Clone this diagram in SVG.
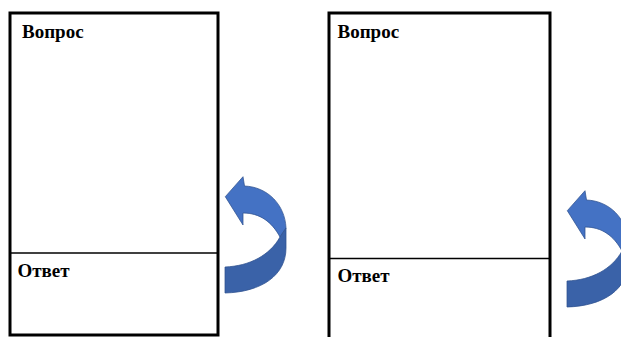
<svg xmlns="http://www.w3.org/2000/svg" width="621" height="337" viewBox="0 0 621 337">
<style>
.box{fill:#fff;stroke:#000;stroke-width:3}
.div{stroke:#000;stroke-width:1.5}
.lbl{font-family:"Liberation Serif","Times New Roman",serif;font-weight:bold;font-size:19px;fill:#000}
.up{fill:#4472C4;stroke:#2F528F;stroke-width:0.75}
.dn{fill:#3A62A8;stroke:#2F528F;stroke-width:0.75}
</style>
<defs>
<g id="arrowShape">
<path class="up" d="M225.3,196.7 L243,176.7 L244.5,186 C268,187 285,205 286,228 L280,237 C272,222 260,213 243,213 L243,225 Z"/>
<path class="dn" d="M286,228 L280,237 C270,255 250,266 225,267 L225,293 C262,292 286,275 286,248 Z"/>
</g>
</defs>
<rect width="621" height="337" fill="#fff"/>
<g id="card1">
<rect class="box" x="10" y="13" width="208" height="322"/>
<line class="div" x1="10" y1="253" x2="218" y2="253"/>
<text class="lbl" x="22" y="37.5">Вопрос</text>
<text class="lbl" x="17.5" y="276.5">Ответ</text>
</g>
<g id="card2">
<rect class="box" x="329" y="13" width="221" height="330"/>
<line class="div" x1="329" y1="258.5" x2="550" y2="258.5"/>
<text class="lbl" x="337.5" y="37.5">Вопрос</text>
<text class="lbl" x="337.5" y="281.5">Ответ</text>
</g>
<g id="connectors">
<use href="#arrowShape"/>
<use href="#arrowShape" transform="translate(342,14)"/>
</g>
</svg>
